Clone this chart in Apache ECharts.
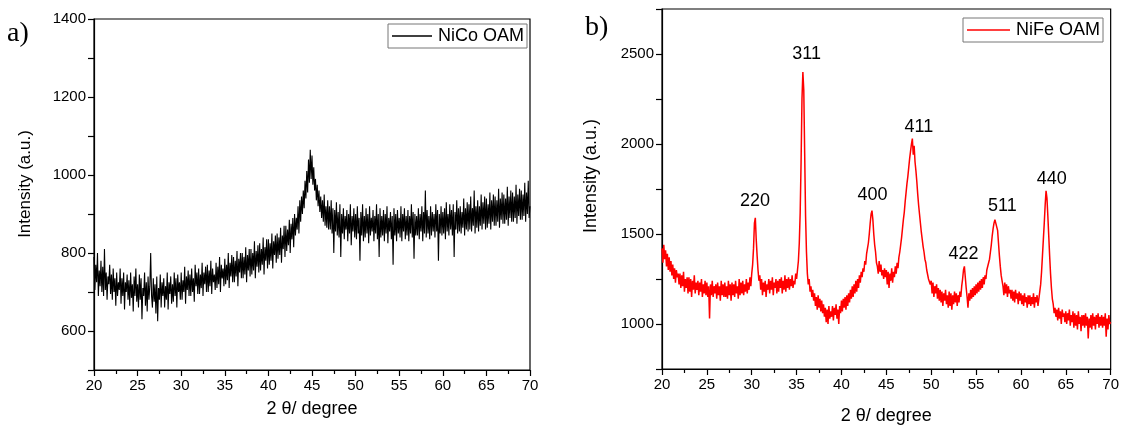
<!DOCTYPE html>
<html>
<head>
<meta charset="utf-8">
<script src="https://cdn.jsdelivr.net/npm/echarts@6/dist/echarts.min.js"></script>
<style>
html,body{margin:0;padding:0;background:#fff;}
#chart{width:1122px;height:430px;}
</style>
</head>
<body>
<div id="chart"></div>
<script>
// ---- data ----
const twoThetaStart = 20;
const twoThetaStep = 0.1;

// NiCo OAM (panel a), 20.0 .. 70.0 deg, step 0.1 (one line = one degree)
const nicoIntensity = [
  790, 705, 770, 725, 800, 690, 755, 715, 780, 700,
  765, 690, 810, 705, 750, 680, 740, 720, 770, 695,
  745, 680, 760, 700, 735, 665, 750, 690, 725, 705,
  760, 670, 735, 690, 750, 655, 725, 700, 745, 680,
  730, 665, 750, 685, 720, 650, 740, 690, 760, 675,
  720, 660, 745, 680, 735, 630, 710, 690, 750, 665,
  725, 650, 740, 680, 715, 800, 690, 660, 735, 675,
  720, 645, 740, 625, 710, 680, 745, 660, 725, 690,
  735, 660, 715, 680, 750, 655, 725, 695, 740, 670,
  720, 675, 750, 690, 735, 660, 745, 700, 725, 680,
  750, 680, 730, 700, 765, 670, 740, 705, 755, 690,
  745, 690, 760, 700, 735, 675, 770, 715, 750, 695,
  760, 695, 745, 710, 775, 690, 750, 720, 765, 700,
  770, 700, 755, 715, 780, 695, 760, 725, 745, 705,
  775, 710, 765, 720, 790, 700, 770, 735, 760, 715,
  785, 720, 770, 730, 800, 710, 775, 740, 795, 725,
  790, 725, 780, 740, 805, 715, 785, 750, 800, 735,
  800, 735, 790, 745, 815, 725, 795, 755, 810, 740,
  810, 745, 800, 755, 830, 735, 805, 765, 820, 750,
  825, 755, 810, 770, 840, 745, 815, 780, 835, 760,
  835, 770, 825, 780, 850, 760, 830, 795, 845, 775,
  850, 785, 840, 795, 865, 775, 845, 810, 870, 790,
  870, 805, 860, 820, 885, 800, 875, 835, 890, 815,
  900, 845, 890, 860, 920, 850, 935, 880, 945, 900,
  960, 915, 985, 940, 1010, 955, 1040, 980, 1065, 990,
  1050, 975, 1020, 960, 990, 935, 975, 920, 960, 905,
  945, 890, 935, 880, 950, 870, 920, 865, 935, 860,
  920, 860, 935, 850, 915, 800, 910, 855, 930, 845,
  905, 840, 925, 790, 900, 850, 915, 835, 895, 860,
  910, 830, 900, 850, 925, 820, 895, 855, 915, 840,
  900, 835, 920, 850, 890, 780, 905, 845, 925, 830,
  895, 840, 915, 850, 900, 825, 920, 845, 890, 855,
  910, 830, 895, 850, 925, 835, 900, 790, 915, 840,
  895, 845, 910, 830, 900, 850, 920, 825, 890, 855,
  905, 835, 895, 770, 915, 845, 900, 830, 910, 850,
  890, 840, 920, 830, 900, 855, 915, 835, 895, 845,
  910, 830, 895, 850, 925, 840, 905, 785, 900, 845,
  895, 845, 915, 835, 900, 855, 920, 830, 905, 850,
  960, 840, 910, 850, 895, 835, 920, 845, 905, 855,
  900, 840, 925, 855, 910, 780, 900, 850, 920, 845,
  905, 850, 915, 835, 930, 855, 900, 845, 925, 860,
  910, 845, 925, 790, 905, 860, 935, 850, 915, 855,
  920, 850, 905, 865, 940, 845, 915, 860, 930, 855,
  925, 860, 945, 855, 915, 870, 960, 850, 920, 865,
  935, 855, 920, 870, 950, 860, 930, 875, 945, 860,
  940, 865, 925, 875, 955, 860, 935, 880, 950, 870,
  945, 870, 935, 880, 965, 865, 940, 885, 955, 875,
  950, 875, 940, 885, 970, 870, 945, 890, 960, 880,
  955, 880, 945, 890, 975, 875, 950, 895, 965, 885,
  960, 885, 950, 895, 980, 880, 955, 900, 985, 890,
  920
];

// NiFe OAM (panel b), 20.0 .. 70.0 deg, step 0.1 (one line = one degree)
const nifeIntensity = [
  1420, 1340, 1440, 1360, 1410, 1320, 1390, 1300, 1370, 1290,
  1350, 1270, 1330, 1250, 1310, 1230, 1300, 1260, 1280, 1220,
  1280, 1200, 1270, 1210, 1290, 1180, 1250, 1200, 1260, 1170,
  1260, 1180, 1250, 1150, 1240, 1190, 1270, 1170, 1230, 1190,
  1240, 1160, 1230, 1180, 1250, 1150, 1220, 1170, 1240, 1160,
  1230, 1150, 1210, 1030, 1220, 1160, 1240, 1150, 1210, 1170,
  1220, 1140, 1230, 1160, 1210, 1130, 1240, 1160, 1220, 1150,
  1230, 1150, 1210, 1140, 1240, 1160, 1220, 1130, 1230, 1160,
  1220, 1150, 1240, 1170, 1210, 1140, 1250, 1160, 1230, 1170,
  1240, 1160, 1220, 1180, 1250, 1170, 1230, 1190, 1260, 1210,
  1280, 1330, 1420, 1560, 1590, 1470, 1380, 1300, 1240, 1270,
  1190, 1250, 1160, 1230, 1180, 1240, 1150, 1220, 1190, 1250,
  1170, 1240, 1190, 1260, 1160, 1230, 1200, 1250, 1170, 1240,
  1180, 1250, 1200, 1260, 1170, 1240, 1190, 1270, 1180, 1250,
  1200, 1260, 1190, 1250, 1210, 1270, 1200, 1240, 1220, 1280,
  1250, 1300, 1350, 1450, 1620, 1900, 2250, 2400, 2300, 1950,
  1600, 1400, 1280, 1220, 1250, 1180, 1210, 1150, 1190, 1130,
  1170, 1100, 1150, 1080, 1160, 1090, 1140, 1070, 1130, 1060,
  1110, 1040, 1090, 1010, 1080, 1000, 1100, 1030, 1070, 1040,
  1100, 1020, 1090, 1050, 1110, 1030, 1080, 1000, 1100, 1060,
  1130, 1070, 1140, 1090, 1150, 1080, 1160, 1100, 1170, 1120,
  1190, 1140, 1210, 1150, 1220, 1170, 1240, 1180, 1250, 1200,
  1270, 1230, 1290, 1260, 1310, 1290, 1350, 1330, 1390, 1420,
  1450, 1500, 1560, 1610, 1630, 1580, 1500, 1440, 1400, 1340,
  1320, 1280, 1350, 1290, 1330, 1270, 1300, 1250, 1310, 1260,
  1300, 1220, 1290, 1200, 1280, 1240, 1310, 1230, 1290, 1260,
  1320, 1280, 1340, 1310, 1370, 1400, 1440, 1480, 1530, 1580,
  1620, 1680, 1730, 1780, 1820, 1870, 1920, 1960, 2000, 2030,
  1940, 1990, 1900, 1850, 1790, 1720, 1660, 1610, 1560, 1510,
  1470, 1430, 1400, 1360, 1340, 1300, 1290, 1250, 1260, 1220,
  1240, 1170, 1230, 1150, 1210, 1170, 1220, 1140, 1200, 1130,
  1190, 1120, 1180, 1100, 1170, 1130, 1190, 1110, 1160, 1090,
  1180, 1100, 1170, 1080, 1160, 1110, 1180, 1120, 1170, 1100,
  1160, 1120, 1180, 1150, 1210, 1250, 1300, 1320, 1260, 1200,
  1150, 1090, 1170, 1130, 1190, 1140, 1200, 1150, 1210, 1160,
  1220, 1170, 1230, 1180, 1240, 1190, 1250, 1200, 1260, 1220,
  1270, 1250, 1300, 1290, 1340, 1360, 1400, 1440, 1490, 1530,
  1560, 1580, 1585, 1570, 1520, 1450, 1380, 1320, 1270, 1240,
  1210, 1160, 1230, 1170, 1220, 1150, 1210, 1170, 1190, 1140,
  1190, 1130, 1180, 1120, 1190, 1140, 1170, 1110, 1180, 1130,
  1170, 1110, 1160, 1100, 1170, 1120, 1150, 1090, 1160, 1110,
  1160, 1100, 1150, 1110, 1170, 1090, 1150, 1120, 1160, 1100,
  1140, 1180, 1220, 1290, 1380, 1470, 1560, 1660, 1740, 1700,
  1600, 1490, 1380, 1280, 1200, 1140, 1110, 1060, 1090, 1040,
  1080, 1020, 1090, 1030, 1070, 1000, 1080, 1040, 1060, 1010,
  1070, 1000, 1060, 1020, 1080, 990, 1050, 1010, 1070, 980,
  1060, 990, 1050, 970, 1070, 1000, 1040, 960, 1050, 990,
  1050, 980, 1060, 990, 1040, 920, 1030, 980, 1050, 970,
  1060, 990, 1040, 970, 1050, 1000, 1060, 980, 1040, 990,
  1050, 980, 1040, 990, 1060, 930, 1030, 970, 1050, 1000,
  1010
];

// Miller index labels for panel b
const peakLabels = ['220', '311', '400', '411', '422', '511', '440'];
const peakLabelAngle = [30.36, 36.11, 43.46, 48.62, 53.6, 57.94, 63.43];
const peakLabelIntensity = [1684, 2500, 1718, 2093, 1388, 1656, 1805];

const seriesNames = ['NiCo OAM', 'NiFe OAM'];
const xTitle = '2 \u03b8/ degree';
const yTitle = 'Intensity (a.u.)';

// ---- build ----
function toPairs(arr) {
  return arr.map((v, i) => [+(twoThetaStart + i * twoThetaStep).toFixed(1), v]);
}
const FONT = "'Liberation Sans', Arial, sans-serif";
const SERIF = "'Liberation Serif', 'Times New Roman', serif";

function xAxisCfg(gridIndex, gap) {
  return {
    type: 'value', gridIndex: gridIndex, min: 20, max: 70, interval: 5,
    name: xTitle, nameLocation: 'middle', nameGap: gap,
    nameTextStyle: { fontFamily: FONT, fontSize: 18, color: '#000' },
    axisLine: { lineStyle: { color: '#000', width: 1.2 } },
    axisTick: { show: true, inside: false, length: 6, lineStyle: { color: '#000', width: 1.2 } },
    minorTick: { show: true, splitNumber: 2, length: 4, lineStyle: { color: '#000', width: 1.2 } },
    axisLabel: { fontFamily: FONT, fontSize: 15, color: '#000', margin: 8 },
    splitLine: { show: false }
  };
}
function yAxisCfg(gridIndex, min, max, interval, labelStep) {
  return {
    type: 'value', gridIndex: gridIndex, min: min, max: max, interval: interval,
    axisLine: { lineStyle: { color: '#000', width: 1.2 } },
    axisTick: { show: true, inside: false, length: 6, lineStyle: { color: '#000', width: 1.2 } },
    axisLabel: {
      fontFamily: FONT, fontSize: 15, color: '#000', margin: 8,
      formatter: function (v) { return (v % labelStep === 0) ? String(v) : ''; }
    },
    splitLine: { show: false }
  };
}

const chart = echarts.init(document.getElementById('chart'), null, { renderer: 'canvas' });
chart.setOption({
  backgroundColor: '#fff',
  animation: false,
  grid: [
    { left: 94, top: 19, width: 436, height: 351, show: true, borderColor: '#000', borderWidth: 1.2, backgroundColor: 'transparent' },
    { left: 662, top: 9, width: 449, height: 361, show: true, borderColor: '#000', borderWidth: 1.2, backgroundColor: 'transparent' }
  ],
  xAxis: [xAxisCfg(0, 30), xAxisCfg(1, 38)],
  yAxis: [yAxisCfg(0, 500, 1400, 100, 200), yAxisCfg(1, 750, 2750, 250, 500)],
  legend: [
    {
      data: [seriesNames[0]], left: 388, top: 24, orient: 'vertical',
      icon: 'rect', itemWidth: 40, itemHeight: 1.5, itemGap: 0,
      borderColor: '#777', borderWidth: 1, borderRadius: 0, padding: [3, 3, 3, 4],
      textStyle: { fontFamily: FONT, fontSize: 18, color: '#000', padding: [0, 0, 0, 1] }
    },
    {
      data: [seriesNames[1]], left: 963, top: 18, orient: 'vertical',
      icon: 'rect', itemWidth: 43, itemHeight: 1.5, itemGap: 0,
      borderColor: '#777', borderWidth: 1, borderRadius: 0, padding: [3, 3, 3, 4],
      textStyle: { fontFamily: FONT, fontSize: 18, color: '#000', padding: [0, 0, 0, 1] }
    }
  ],
  series: [
    {
      name: seriesNames[0], type: 'line', xAxisIndex: 0, yAxisIndex: 0,
      data: toPairs(nicoIntensity), showSymbol: false, symbol: 'none',
      lineStyle: { color: '#000', width: 1.1 }, itemStyle: { color: '#000' }
    },
    {
      name: seriesNames[1], type: 'line', xAxisIndex: 1, yAxisIndex: 1,
      data: toPairs(nifeIntensity), showSymbol: false, symbol: 'none',
      lineStyle: { color: '#ff0000', width: 1.5 }, itemStyle: { color: '#ff0000' }
    },
    {
      name: 'hkl', type: 'scatter', xAxisIndex: 1, yAxisIndex: 1,
      symbolSize: 1, silent: true, itemStyle: { color: 'rgba(0,0,0,0)' },
      data: peakLabels.map((t, i) => ({ value: [peakLabelAngle[i], peakLabelIntensity[i]], name: t })),
      label: {
        show: true, position: 'inside', formatter: '{b}',
        fontFamily: FONT, fontSize: 18, color: '#000',
        textBorderWidth: 0, textShadowBlur: 0, opacity: 1
      }
    }
  ],
  graphic: [
    { type: 'text', left: 7, top: 20, style: { text: 'a)', font: '28px ' + SERIF, fill: '#000' } },
    { type: 'text', left: 585, top: 14, style: { text: 'b)', font: '28px ' + SERIF, fill: '#000' } },
    { type: 'text', x: 25, y: 184, rotation: Math.PI / 2,
      style: { text: yTitle, font: '17px ' + FONT, fill: '#000', align: 'center', verticalAlign: 'middle' } },
    { type: 'text', x: 591, y: 176, rotation: Math.PI / 2,
      style: { text: yTitle, font: '18px ' + FONT, fill: '#000', align: 'center', verticalAlign: 'middle' } }
  ]
});
</script>
</body>
</html>
